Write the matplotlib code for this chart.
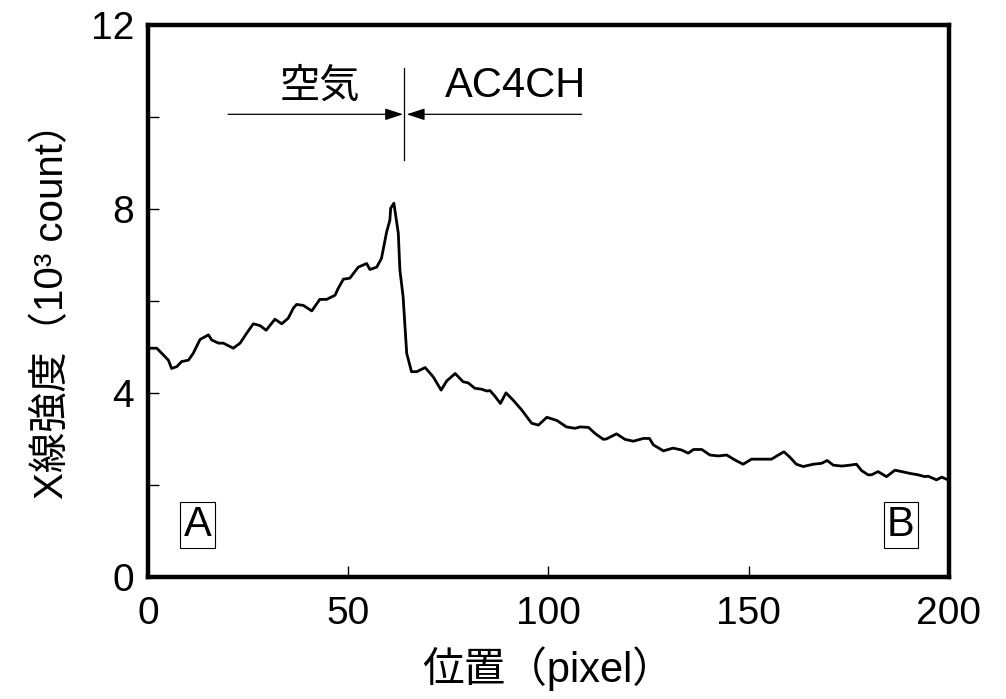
import matplotlib
matplotlib.use("Agg")
import matplotlib.pyplot as plt
from matplotlib.ticker import MultipleLocator

plt.rcParams['font.family'] = ['Liberation Sans', 'Noto Sans CJK JP', 'DejaVu Sans']

pixel = [0, 2.2, 5.1, 5.9, 7.2, 8.4, 10.1, 11.3, 13.0, 15.1, 15.9, 17.6, 18.8, 21.3, 23.0,
         24.6, 26.3, 28.0, 29.5, 31.7, 33.4, 35.0, 36.3, 37.1, 38.8, 40.9, 42.9, 44.6, 46.7,
         47.5, 48.8, 50.4, 52.5, 54.6, 55.4, 57.1, 58.3, 59.6, 60.4, 60.6, 61.4, 62.5, 62.9,
         63.7, 64.6, 65.8, 67.1, 69.2, 71.2, 73.2, 74.6, 76.7, 78.7, 79.9, 81.6, 83.3, 84.6,
         85.4, 86.6, 88.0, 89.4, 91.2, 93.3, 95.8, 97.5, 99.6, 102.1, 104.5, 106.6, 107.9,
         110.0, 111.6, 113.7, 114.5, 117.0, 119.1, 121.2, 123.7, 125.2, 126.2, 128.7, 131.1,
         133.2, 134.9, 136.2, 138.3, 140.3, 142.4, 144.5, 146.6, 148.6, 150.7, 152.8, 155.7,
         157.4, 158.8, 160.3, 161.9, 163.6, 166.1, 168.2, 169.6, 171.1, 173.2, 175.3, 176.9,
         178.2, 179.8, 180.7, 182.3, 184.4, 186.5, 188.2, 190.3, 192.3, 194.0, 194.8, 196.9,
         198.2, 200]
intensity = [4.97, 4.97, 4.71, 4.53, 4.57, 4.68, 4.71, 4.86, 5.16, 5.26, 5.15, 5.08, 5.08,
             4.97, 5.08, 5.29, 5.50, 5.46, 5.36, 5.60, 5.50, 5.62, 5.84, 5.92, 5.90, 5.78,
             6.03, 6.03, 6.12, 6.27, 6.47, 6.49, 6.73, 6.81, 6.68, 6.73, 6.92, 7.50, 7.75,
             8.01, 8.12, 7.47, 6.67, 6.09, 4.86, 4.46, 4.46, 4.55, 4.35, 4.06, 4.26, 4.42,
             4.24, 4.22, 4.10, 4.08, 4.04, 4.05, 3.93, 3.77, 4.00, 3.84, 3.63, 3.34, 3.30,
             3.47, 3.40, 3.26, 3.23, 3.26, 3.25, 3.12, 2.99, 3.00, 3.11, 2.99, 2.95, 3.01,
             3.01, 2.87, 2.74, 2.80, 2.76, 2.69, 2.77, 2.77, 2.65, 2.63, 2.65, 2.54, 2.45,
             2.56, 2.56, 2.56, 2.65, 2.72, 2.60, 2.45, 2.40, 2.45, 2.47, 2.53, 2.43, 2.41,
             2.43, 2.45, 2.31, 2.22, 2.22, 2.29, 2.18, 2.32, 2.29, 2.25, 2.22, 2.18, 2.19,
             2.11, 2.17, 2.10]

x_ticks = [0, 50, 100, 150, 200]
y_ticks = [0, 4, 8, 12]
boundary = 64.0
region_labels = ["空気", "AC4CH"]
end_labels = ["A", "B"]

fig = plt.figure(figsize=(10.06, 6.99), dpi=100)
ax = fig.add_axes([0.1471, 0.1745, 0.7962, 0.7904])

ax.plot(pixel, intensity, color='black', lw=2.0, solid_joinstyle='round')

ax.set_xlim(0, 200)
ax.set_ylim(0, 12)
ax.set_xticks(x_ticks)
ax.set_yticks(y_ticks)
ax.yaxis.set_minor_locator(MultipleLocator(2))
ax.tick_params(axis='both', which='both', direction='in', length=8, width=1,
               labelsize=28, top=False, right=False)
ax.tick_params(axis='y', which='major', pad=10)
ax.tick_params(axis='x', which='major', pad=14)
for s in ax.spines.values():
    s.set_linewidth(3.2)

ax.set_xlabel("位置（pixel）", fontsize=30, labelpad=10)
ax.set_ylabel("X線強度（10³ count）", fontsize=29, labelpad=14)

# boundary and arrows
ax.plot([boundary, boundary], [9.06, 11.05], color='black', lw=0.9)
astyle = dict(arrowstyle='-|>,head_length=0.55,head_width=0.18', color='black',
              lw=0.9, shrinkA=0, shrinkB=0, mutation_scale=20)
ax.annotate('', xy=(boundary - 0.3, 10.05), xytext=(20, 10.05), arrowprops=astyle)
ax.annotate('', xy=(boundary + 0.6, 10.05), xytext=(108.3, 10.05), arrowprops=astyle)
ax.text(43, 10.41, region_labels[0], fontsize=29, ha='center', va='baseline')
ax.text(91.9, 10.42, region_labels[1], fontsize=30, ha='center', va='baseline')

bbox = dict(boxstyle='square,pad=0.08', fc='white', ec='black', lw=0.8)
ax.text(12.4, 1.13, end_labels[0], fontsize=30, ha='center', va='center', bbox=bbox)
ax.text(188.0, 1.13, end_labels[1], fontsize=30, ha='center', va='center', bbox=bbox)

fig.savefig("out.png", dpi=100)
